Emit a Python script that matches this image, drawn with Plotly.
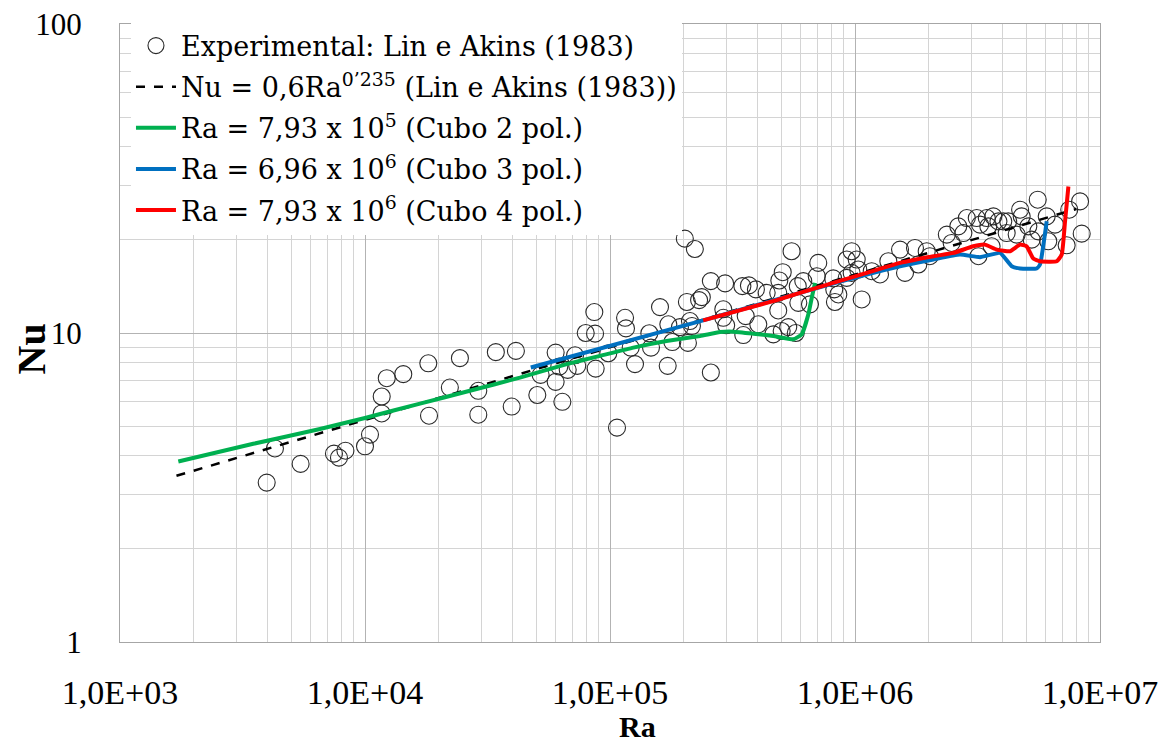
import plotly.graph_objects as go

# Experimental data (Lin e Akins, 1983)
exp_ra = [3.97e3, 4.29e3, 5.46e3, 7.47e3, 7.83e3, 8.32e3, 1.0e4, 1.048e4, 1.17e4, 1.17e4,
          1.227e4, 1.433e4, 1.813e4, 1.825e4, 2.22e4, 2.44e4, 2.90e4, 2.90e4, 3.42e4, 3.97e4,
          4.13e4, 5.05e4, 5.21e4, 6.00e4, 6.00e4, 6.39e4, 6.21e4, 6.72e4, 7.20e4, 7.35e4,
          7.96e4, 8.63e4, 8.69e4, 8.74e4, 9.84e4, 1.152e5, 1.162e5, 1.215e5, 1.265e5, 1.447e5,
          1.47e5, 1.60e5, 1.72e5, 1.73e5, 1.796e5, 1.93e5, 2.02e5, 2.22e5, 2.06e5, 2.12e5,
          2.08e5, 2.16e5, 2.31e5, 2.37e5, 2.58e5, 2.58e5, 2.90e5, 2.95e5, 2.90e5, 2.98e5,
          3.47e5, 3.69e5, 3.58e5, 3.50e5, 3.94e5, 4.03e5, 4.36e5, 4.64e5, 4.86e5, 4.86e5,
          4.91e5, 5.07e5, 5.02e5, 5.34e5, 5.51e5, 5.87e5, 5.84e5, 6.15e5, 5.73e5, 6.55e5,
          6.98e5, 7.08e5, 8.15e5, 8.23e5, 8.28e5, 8.55e5, 9.25e5, 9.25e5, 9.69e5, 1.016e6,
          9.69e5, 1.031e6, 1.065e6, 1.17e6, 1.265e6, 1.368e6, 1.527e6, 1.60e6, 1.757e6, 1.813e6,
          1.962e6, 2.02e6, 2.37e6, 2.48e6, 2.64e6, 2.77e6, 2.86e6, 3.14e6, 3.24e6, 3.19e6,
          3.45e6, 3.50e6, 3.67e6, 3.85e6, 4.03e6, 4.22e6, 3.61e6, 4.16e6, 4.57e6, 4.72e6,
          4.79e6, 5.10e6, 5.26e6, 5.60e6, 5.57e6, 6.06e6, 6.15e6, 6.55e6, 7.31e6, 7.49e6,
          8.29e6, 8.42e6, 1.068e5]
exp_nu = [3.28, 4.23, 3.77, 4.07, 3.95, 4.16, 4.30, 4.69, 5.49, 6.23,
          7.14, 7.36, 7.98, 5.40, 6.66, 8.29, 6.50, 5.44, 8.67, 5.78,
          8.75, 6.30, 7.32, 8.64, 6.95, 5.99, 7.79, 7.60, 8.47, 7.83,
          10.0, 11.69, 9.95, 7.67, 8.60, 11.2, 10.35, 8.97, 7.93, 9.98,
          8.97, 12.13, 7.83, 10.67, 9.35, 10.45, 20.2, 18.7, 12.6, 10.93,
          9.29, 10.53, 12.78, 13.06, 14.72, 7.45, 11.93, 14.47, 11.2, 10.59,
          14.18, 14.26, 11.34, 9.85, 13.84, 10.67, 13.49, 9.90, 11.83, 13.49,
          14.79, 15.73, 10.15, 10.45, 18.39, 12.52, 14.18, 14.72, 10.0, 12.38,
          15.27, 16.86, 15.02, 13.84, 12.6, 13.33, 17.29, 15.08, 18.39, 17.29,
          15.65, 16.05, 12.84, 15.85, 15.47, 17.07, 18.62, 15.65, 18.85, 16.66,
          18.39, 17.72, 20.82, 19.56, 22.14, 21.06, 23.55, 23.55, 22.42, 17.72,
          23.55, 22.14, 23.85, 22.98, 22.98, 22.98, 19.08, 21.06, 20.82, 25.06,
          23.85, 22.14, 20.06, 21.33, 27.0, 23.85, 19.81, 22.42, 19.22, 25.06,
          26.66, 20.97, 4.94]

# Correlation Nu = 0.6 Ra^0.235 (end points)
corr_ra = [1.7e3, 8.0e6]
corr_nu = [3.45, 25.2]

# Cubo 2 pol.
g_ra = [1.73e3, 3.50e3, 6.55e3, 1.0e4, 1.677e4, 2.68e4, 4.29e4, 6.66e4, 9.10e4, 1.245e5,
        1.70e5, 2.33e5, 2.81e5, 3.19e5, 3.85e5, 4.64e5, 5.60e5, 6.06e5, 6.45e5, 6.66e5, 6.87e5]
g_nu = [3.84, 4.38, 4.89, 5.31, 5.91, 6.50, 7.17, 7.93, 8.43, 8.97,
        9.42, 9.78, 10.07, 10.1, 9.95, 9.78, 9.54, 9.91, 11.49, 13.0, 14.53]

# Cubo 3 pol.
b_ra = [4.75e4, 2.40e5, 5.96e5, 1.116e6, 1.527e6, 2.09e6, 2.68e6, 3.24e6, 3.91e6, 4.36e6,
        4.72e6, 5.51e6, 5.69e6, 6.06e6]
b_nu = [7.73, 10.99, 13.49, 15.47, 16.45, 17.29, 17.94, 17.6, 18.16, 16.45,
        16.17, 16.17, 16.66, 22.98]

# Cubo 4 pol.
r_ra = [2.40e5, 4.79e5, 5.96e5, 8.15e5, 1.116e6, 1.527e6, 2.09e6, 2.52e6, 3.04e6, 3.39e6,
        3.79e6, 4.29e6, 4.72e6, 5.02e6, 5.34e6, 5.69e6, 6.66e6, 6.98e6, 7.20e6, 7.43e6]
r_nu = [10.99, 12.78, 13.49, 14.53, 15.65, 16.86, 17.72, 18.16, 19.08, 19.32,
        18.62, 18.39, 19.32, 19.08, 17.42, 17.07, 17.07, 17.94, 22.98, 29.8]

x_ticks = [1e3, 1e4, 1e5, 1e6, 1e7]
x_labels = ["1,0E+03", "1,0E+04", "1,0E+05", "1,0E+06", "1,0E+07"]
y_ticks = [1, 10, 100]
y_labels = ["1", "10", "100"]

FONT = "Liberation Serif"
LFONT = "DejaVu Serif"

fig = go.Figure()
fig.add_trace(go.Scatter(
    x=exp_ra, y=exp_nu, mode="markers", name="Experimental: Lin e Akins (1983)",
    legendgroup="a",
    marker=dict(symbol="circle-open", size=17, color="#2a2a2a", line=dict(width=1.1)),
))
fig.add_trace(go.Scatter(
    x=corr_ra, y=corr_nu, mode="lines", legendgroup="b",
    name="Nu = 0,6Ra<sup>0’235</sup> (Lin e Akins (1983))",
    line=dict(color="black", width=2.5, dash="dash"),
))
fig.add_trace(go.Scatter(
    x=g_ra, y=g_nu, mode="lines", name="Ra = 7,93 x 10<sup>5</sup> (Cubo 2 pol.)",
    legendgroup="c",
    line=dict(color="#00b050", width=4, shape="spline", smoothing=0.4),
))
fig.add_trace(go.Scatter(
    x=b_ra, y=b_nu, mode="lines", name="Ra = 6,96 x 10<sup>6</sup> (Cubo 3 pol.)",
    legendgroup="d",
    line=dict(color="#0070c0", width=4, shape="spline", smoothing=0.4),
))
fig.add_trace(go.Scatter(
    x=r_ra, y=r_nu, mode="lines", name="Ra = 7,93 x 10<sup>6</sup> (Cubo 4 pol.)",
    legendgroup="e",
    line=dict(color="#ff0000", width=4, shape="spline", smoothing=0.4),
))

minor_x = [k * 10 ** n for n in range(3, 7) for k in range(2, 10)]
minor_y = [k * 10 ** n for n in range(0, 2) for k in range(2, 10)]

fig.update_layout(
    width=1172, height=744,
    margin=dict(l=112, r=80, t=16, b=110),
    paper_bgcolor="white", plot_bgcolor="white",
    font=dict(family=FONT, size=24, color="black"),
    showlegend=True,
    legend=dict(
        x=0.0112, y=1.004, xanchor="left", yanchor="top",
        bgcolor="white", borderwidth=0,
        font=dict(family=LFONT, size=27, color="black"),
        tracegroupgap=3, itemwidth=40,
    ),
    xaxis=dict(
        type="log", range=[3, 7], automargin=False,
        tickvals=x_ticks, ticktext=x_labels,
        showgrid=True, gridcolor="#b3b3b3", gridwidth=1,
        minor=dict(tickvals=minor_x, showgrid=True, gridcolor="#d4d4d4", gridwidth=1, ticks=""),
        showline=True, linecolor="#a6a6a6", linewidth=1, mirror=True,
        ticks="", ticklabelstandoff=20, ticklabeloverflow="allow",
        tickfont=dict(family=FONT, size=34),
        zeroline=False,
    ),
    yaxis=dict(
        type="log", range=[0, 2], automargin=False,
        tickvals=y_ticks, ticktext=y_labels,
        showgrid=True, gridcolor="#b3b3b3", gridwidth=1,
        minor=dict(tickvals=minor_y, showgrid=True, gridcolor="#d4d4d4", gridwidth=1, ticks=""),
        showline=True, linecolor="#a6a6a6", linewidth=1, mirror=True,
        ticks="", ticklabelstandoff=31, ticklabeloverflow="allow",
        tickfont=dict(family=FONT, size=31),
        zeroline=False,
    ),
    annotations=[
        dict(text="<b>Ra</b>", xref="paper", yref="paper", x=0.5276, y=-0.1375,
             xanchor="center", yanchor="middle", showarrow=False,
             font=dict(family=FONT, size=30, color="black")),
        dict(text="<b>Nu</b>", xref="paper", yref="paper", x=-0.0905, y=0.474,
             xanchor="center", yanchor="middle", showarrow=False, textangle=-90,
             font=dict(family=FONT, size=40, color="black")),
    ],
)

fig.write_html("out.html")
